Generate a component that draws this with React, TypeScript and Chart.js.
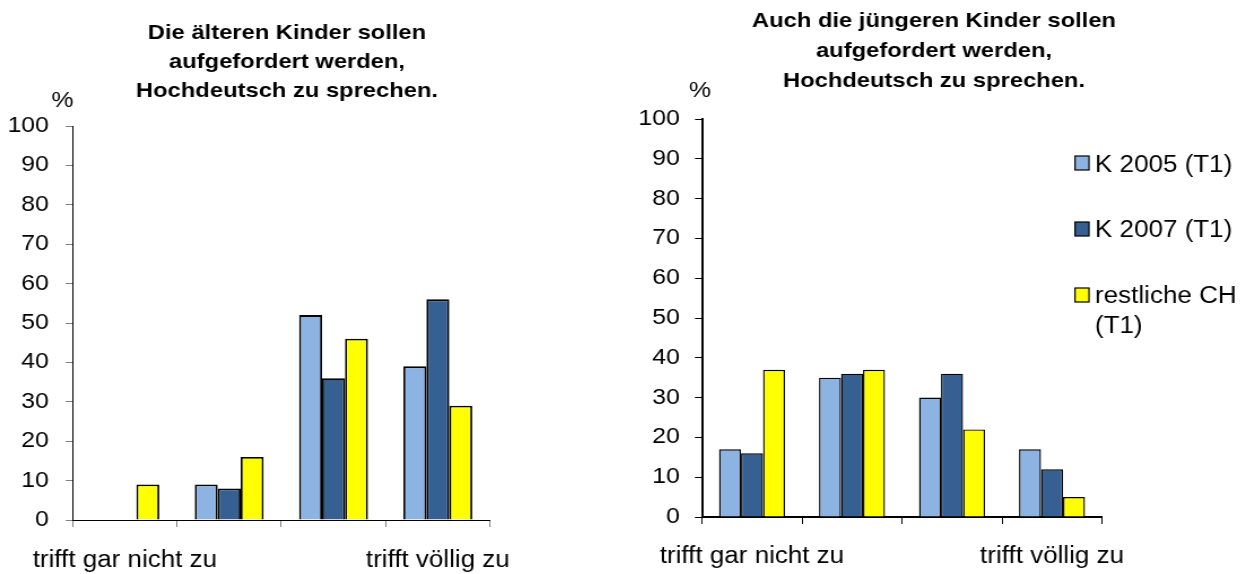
import React, { useEffect, useRef } from "react";
import { Chart, registerables } from "chart.js";

Chart.register(...registerables);

// The source picture is horizontally stretched; charts are drawn narrower and stretched back.
const S = 1.13;
const FONT = "'Liberation Sans', Arial, Helvetica, sans-serif";

const categories = ["trifft gar nicht zu", "", "", "trifft völlig zu"];
const seriesNames = ["K 2005 (T1)", "K 2007 (T1)", "restliche CH (T1)"];
const legendLines = [["K 2005 (T1)"], ["K 2007 (T1)"], ["restliche CH", "(T1)"]];
const seriesColors = ["#8DB3E2", "#366092", "#FFFF00"];

const leftK2005 = [0, 9, 52, 39];
const leftK2007 = [0, 8, 36, 56];
const leftRest = [9, 16, 46, 29];

const rightK2005 = [17, 35, 30, 17];
const rightK2007 = [16, 36, 36, 12];
const rightRest = [37, 37, 22, 5];

const yMin = 0;
const yMax = 100;
const yStep = 10;

const leftTitle = ["Die älteren Kinder sollen", "aufgefordert werden,", "Hochdeutsch zu sprechen."];
const rightTitle = ["Auch die jüngeren Kinder sollen", "aufgefordert werden,", "Hochdeutsch zu sprechen."];
const unitLabel = "%";

type Panel = {
  canvasLeft: number;
  canvasWidth: number;
  plotLeft: number;
  plotRight: number;
  plotTop: number;
  plotBottom: number;
  titleLines: string[];
  titleCenter: number;
  titleBaselines: number[];
  pctX: number;
  pctBaseline: number;
  tickColor: string;
  axisWidth: number;
  barBorder: number;
  yPad: number;
  xPad: number;
  series: number[][];
  legend: boolean;
};

const panels: Panel[] = [
  {
    canvasLeft: 0,
    canvasWidth: 620,
    plotLeft: 72.7,
    plotRight: 490,
    plotTop: 126,
    plotBottom: 520,
    titleLines: leftTitle,
    titleCenter: 287,
    titleBaselines: [38.5, 67.5, 96.5],
    pctX: 62.5,
    pctBaseline: 107,
    tickColor: "#808080",
    axisWidth: 1,
    barBorder: 1.8,
    yPad: 14.8,
    xPad: 20,
    series: [leftK2005, leftK2007, leftRest],
    legend: false,
  },
  {
    canvasLeft: 620,
    canvasWidth: 627,
    plotLeft: 702,
    plotRight: 1102,
    plotTop: 119,
    plotBottom: 517,
    titleLines: rightTitle,
    titleCenter: 934,
    titleBaselines: [26.7, 56.7, 86.7],
    pctX: 700,
    pctBaseline: 97,
    tickColor: "#000000",
    axisWidth: 2,
    barBorder: 1.4,
    yPad: 13.3,
    xPad: 19,
    series: [rightK2005, rightK2007, rightRest],
    legend: true,
  },
];

const legendSquareX = 1075;
const legendSquareTops = [156, 222, 288];
const legendTextX = 1095;
const legendBaselines = [[171.5], [237], [303, 333]];

function BarPanel({ panel }: { panel: Panel }) {
  const ref = useRef<HTMLCanvasElement>(null);
  const W = Math.round(panel.canvasWidth / S);
  const H = 574;

  useEffect(() => {
    const canvas = ref.current;
    if (!canvas) return;
    const px = (x: number) => (x - panel.canvasLeft) / S;
    const plotL = px(panel.plotLeft);
    const plotR = px(panel.plotRight);

    const textPlugin = {
      id: "panelText",
      afterDraw(chart: any) {
        const ctx = chart.ctx as CanvasRenderingContext2D;
        ctx.save();
        ctx.fillStyle = "#000";
        ctx.textAlign = "center";
        ctx.textBaseline = "alphabetic";
        ctx.font = `bold 21px ${FONT}`;
        panel.titleLines.forEach((line, i) => {
          ctx.fillText(line, px(panel.titleCenter), panel.titleBaselines[i]);
        });
        ctx.font = `22px ${FONT}`;
        ctx.fillText(unitLabel, px(panel.pctX), panel.pctBaseline);

        if (panel.legend) {
          ctx.textAlign = "left";
          chart.data.datasets.forEach((ds: any, i: number) => {
            const sx = px(legendSquareX);
            const sy = legendSquareTops[i];
            const sw = 14 / S;
            const sh = 14;
            ctx.fillStyle = ds.backgroundColor;
            ctx.fillRect(sx, sy, sw, sh);
            ctx.strokeStyle = "#000";
            ctx.lineWidth = 1.2;
            ctx.strokeRect(sx, sy, sw, sh);
            ctx.fillStyle = "#000";
            ctx.font = `23px ${FONT}`;
            legendLines[i].forEach((t, j) => {
              ctx.fillText(t, px(legendTextX), legendBaselines[i][j]);
            });
          });
        }
        ctx.restore();
      },
    };

    const chart = new Chart(canvas, {
      type: "bar",
      data: {
        labels: categories,
        datasets: panel.series.map((vals, i) => ({
          label: seriesNames[i],
          data: vals,
          backgroundColor: seriesColors[i],
          borderColor: "#000000",
          borderWidth: panel.barBorder,
          categoryPercentage: 0.66,
          barPercentage: 1,
        })),
      },
      options: {
        responsive: false,
        maintainAspectRatio: false,
        animation: false,
        devicePixelRatio: 1,
        layout: {
          padding: { left: 0, right: W - plotR, top: panel.plotTop, bottom: 0 },
        },
        plugins: {
          legend: { display: false },
          title: { display: false },
          tooltip: { enabled: false },
        },
        scales: {
          x: {
            type: "category",
            offset: true,
            grid: {
              offset: true,
              drawOnChartArea: false,
              drawTicks: true,
              tickLength: 7,
              color: panel.tickColor,
              lineWidth: 1,
            },
            border: { display: true, color: "#000000", width: panel.axisWidth },
            ticks: {
              color: "#000000",
              font: { family: FONT, size: 23 },
              padding: panel.xPad,
              maxRotation: 0,
              minRotation: 0,
              autoSkip: false,
            },
            afterFit: (s: any) => {
              s.height = H - panel.plotBottom;
            },
          },
          y: {
            min: yMin,
            max: yMax,
            grid: {
              drawOnChartArea: false,
              drawTicks: true,
              tickLength: 7 / S,
              color: panel.tickColor,
              lineWidth: 1,
            },
            border: { display: true, color: "#000000", width: panel.axisWidth },
            ticks: {
              stepSize: yStep,
              color: "#000000",
              font: { family: FONT, size: 22 },
              padding: panel.yPad,
            },
            afterFit: (s: any) => {
              s.width = plotL;
            },
          },
        },
      },
      plugins: [textPlugin],
    });
    return () => chart.destroy();
  }, [panel]);

  return (
    <canvas
      ref={ref}
      width={W}
      height={H}
      style={{
        position: "absolute",
        left: panel.canvasLeft,
        top: 0,
        width: W,
        height: H,
        transform: `scaleX(${S})`,
        transformOrigin: "0 0",
        display: "block",
      }}
    />
  );
}

export default function App() {
  return (
    <div
      style={{
        position: "absolute",
        left: 0,
        top: 0,
        width: 1247,
        height: 574,
        overflow: "hidden",
        background: "#ffffff",
      }}
    >
      {panels.map((p, i) => (
        <BarPanel key={i} panel={p} />
      ))}
    </div>
  );
}
